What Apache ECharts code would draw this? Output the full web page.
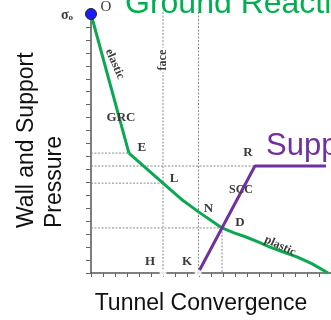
<!DOCTYPE html>
<html><head><meta charset="utf-8">
<script src="https://cdn.jsdelivr.net/npm/echarts@6/dist/echarts.min.js"></script>
<style>html,body{margin:0;padding:0;background:#fff;overflow:hidden}#c{width:331px;height:320px}</style>
</head><body><div id="c"></div>
<script>
// Ground reaction curve: elastic part O -> E, plastic part E -> L -> N -> D -> ...
const grcElastic = [[0, 10], [1.58, 4.63]];
const grcPlastic = [[1.58, 4.63], [3.0, 3.47], [3.75, 2.86], [4.48, 2.36], [5.46, 1.74], [5.96, 1.55], [6.46, 1.39], [6.96, 1.2], [7.46, 1.0], [8.04, 0.8], [8.58, 0.62], [9.2, 0.36], [9.88, 0]];
// Support characteristic curve: K -> R -> plateau
const scc = [[4.46, 0], [6.83, 4.13], [9.79, 4.13]];
// Named points
const pO = [0, 10], pE = [1.58, 4.63], pL = [3.0, 3.47], pN = [4.48, 2.36], pD = [5.46, 1.74];
const pR = [6.83, 4.13], pH = [3.0, 0], pK = [4.46, 0];
const topY = 10.15;
// Guide (dotted) lines built from the named points
const guides = [
  [[0, pE[1]], pE], [[0, pR[1]], pR], [[0, pL[1]], pL], [[0, pD[1]], pD],
  [pD, [pD[0], 0]], [pH, [pH[0], topY]], [[pN[0], 0], [pN[0], topY]]
];
const titleText = 'Ground Reaction Curve';
const supportText = 'Support Characteristic Curve';
const xName = 'Tunnel Convergence';
const yName1 = 'Wall and Support';
const yName2 = 'Pressure';

const chart = echarts.init(document.getElementById('c'), null, {renderer: 'canvas'});
const axisCommon = {
  type: 'value', min: 0, max: 10, interval: 0.5,
  axisLine: {lineStyle: {color: '#555', width: 1.5}},
  axisLabel: {show: false}, splitLine: {show: false}
};
const series = [];
guides.forEach(g => series.push({
  type: 'line', data: g, symbol: 'none', silent: true, clip: false, z: 1,
  lineStyle: {color: '#8a8a8a', width: 1, type: [2, 1.5]}
}));
series.push({type: 'line', data: grcElastic, symbol: 'none', z: 3,
  lineStyle: {color: '#0aa84f', width: 3}});
series.push({type: 'line', data: grcPlastic, symbol: 'none', z: 3,
  lineStyle: {color: '#0aa84f', width: 3, join: 'round'}});
series.push({type: 'line', data: scc, symbol: 'none', z: 4,
  lineStyle: {color: '#7030a0', width: 3}});
series.push({type: 'scatter', data: [pH, pK], symbol: 'emptyCircle', symbolSize: 5, clip: false, z: 5,
  itemStyle: {color: '#fff', borderColor: '#777', borderWidth: 1}});
series.push({type: 'scatter', data: [pO], symbolSize: 11, clip: false, z: 6,
  itemStyle: {color: '#1a1aff', borderColor: '#222', borderWidth: 1, opacity: 1}});

chart.setOption({
  animation: false,
  backgroundColor: '#fff',
  grid: {left: 91, right: 0, top: 14, bottom: 47, containLabel: false},
  xAxis: Object.assign({}, axisCommon, {axisTick: {show: true, length: 4, lineStyle: {color: '#666'}}}),
  yAxis: Object.assign({}, axisCommon, {axisTick: {show: true, length: 5, lineStyle: {color: '#666'}}}),
  series: series
});

function px(p) { return chart.convertToPixel({gridIndex: 0}, p); }
const serif = {fontFamily: 'Liberation Serif', fontWeight: 'bold', fontSize: 12, fill: '#3a3a3a'};
function lbl(text, pt, dx, dy, extra) {
  const q = px(pt);
  return Object.assign({type: 'text', x: q[0] + dx, y: q[1] + dy, z: 20,
    style: Object.assign({text: text, align: 'center', verticalAlign: 'middle'}, serif)}, extra || {});
}
function st(text, size) { return Object.assign({text: text, align: 'center', verticalAlign: 'middle'}, serif, {fontSize: size}); }
const g = [];
g.push(lbl('O', pO, 15, -7, {style: Object.assign(st('O', 15), {fontWeight: 'normal'})}));
g.push({type: 'text', x: px(pO)[0] - 24, y: px(pO)[1] + 1, z: 20,
  style: {text: '{a|σ}{b|o}', align: 'center', verticalAlign: 'middle',
    rich: {a: {fontFamily: 'Liberation Serif', fontWeight: 'bold', fontSize: 14, fill: '#3a3a3a'},
           b: {fontFamily: 'Liberation Serif', fontWeight: 'bold', fontSize: 9, fill: '#3a3a3a', padding: [6, 0, 0, 0]}}}});
g.push(lbl('elastic', [0.99, 8.07], 0, 0, {rotation: -66 * Math.PI / 180}));
g.push(lbl('face', [3.0, 8.22], 0, 0, {rotation: Math.PI / 2,
  style: Object.assign(st('face', 12), {backgroundColor: '#fff', padding: [0, 2]})}));
g.push(lbl('GRC', [1.25, 5.98], 0, 0, {style: st('GRC', 13)}));
g.push(lbl('E', pE, 13, -5, {style: st('E', 13)}));
g.push(lbl('L', pL, 11, -4, {style: st('L', 13)}));
g.push(lbl('R', pR, -7, -13, {style: st('R', 13)}));
g.push(lbl('SCC', [6.25, 3.2], 0, 0, {style: st('SCC', 12)}));
g.push(lbl('N', pN, 10, -3, {style: st('N', 13)}));
g.push(lbl('D', pD, 18, -5, {style: st('D', 13)}));
g.push(lbl('plastic', [7.88, 1.04], 0, 0, {rotation: -25 * Math.PI / 180}));
g.push(lbl('H', pH, -13, -11, {style: st('H', 13)}));
g.push(lbl('K', pK, -11, -11, {style: st('K', 13)}));
// Big overlay texts
const sans = 'Liberation Sans';
g.push({type: 'text', x: 125, y: 20, z: 30, style: {text: titleText, fontFamily: sans, fontSize: 32, fill: '#00b050', align: 'left', verticalAlign: 'bottom'}});
g.push({type: 'text', x: 266, y: 162, z: 30, style: {text: supportText, fontFamily: sans, fontSize: 31, fill: '#7030a0', align: 'left', verticalAlign: 'bottom'}});
g.push({type: 'text', x: 201, y: 304, z: 30, style: {text: xName, fontFamily: sans, fontSize: 23, fill: '#111', align: 'center', verticalAlign: 'middle'}});
g.push({type: 'text', x: 27, y: 228, rotation: Math.PI / 2, z: 30, style: {text: yName1, fontFamily: sans, fontSize: 23, fill: '#111', align: 'left', verticalAlign: 'middle'}});
g.push({type: 'text', x: 55, y: 228, rotation: Math.PI / 2, z: 30, style: {text: yName2, fontFamily: sans, fontSize: 23, fill: '#111', align: 'left', verticalAlign: 'middle'}});
chart.setOption({graphic: g});
</script></body></html>
